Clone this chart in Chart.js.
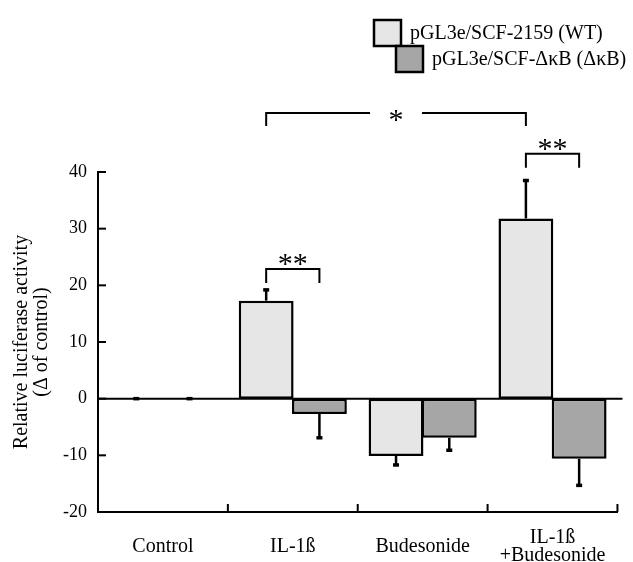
<!DOCTYPE html>
<html>
<head>
<meta charset="utf-8">
<script src="https://cdn.jsdelivr.net/npm/chart.js@4.4.1/dist/chart.umd.min.js"></script>
<style>
  html, body { margin: 0; padding: 0; background: #fff; }
  #wrap { width: 633px; height: 562px; }
</style>
</head>
<body>
<div id="wrap"><canvas id="lucChart" width="633" height="562"></canvas></div>
<script>
// values
const categories = ["Control", "IL-1ß", "Budesonide", ["IL-1ß", "+Budesonide"]];
const seriesNames = ["pGL3e/SCF-2159 (WT)", "pGL3e/SCF-ΔκB (ΔκB)"];
const wtValues = [0, 17.3, -10.1, 31.8];
const wtErrors = [0, 1.9, 1.6, 6.7];
const dkbValues = [0, -2.7, -6.9, -10.6];
const dkbErrors = [0, 4.2, 2.2, 4.7];
const yTicks = [-20, -10, 0, 10, 20, 30, 40];

// significance brackets: [category, dataset] -> [category, dataset] at a y value
const sigBrackets = [
    { from: [1, 0], to: [1, 1], y: 22.9, label: "**" },
    { from: [1, 0], to: [3, 0], y: 50.4, label: "*" },
    { from: [3, 0], to: [3, 1], y: 43.2, label: "**" }
];

const serif = "'Liberation Serif', 'Times New Roman', serif";
const colors = ["#e6e6e6", "#a6a6a6"];

// error bars, zero line, inner ticks, brackets and legend
const extras = {
    id: "extras",
    afterDatasetsDraw(chart) {
        const ctx = chart.ctx;
        const area = chart.chartArea;
        const y = chart.scales.y;
        const x = chart.scales.x;
        ctx.save();
        ctx.strokeStyle = "#000";
        ctx.lineCap = "butt";

        // zero line
        ctx.lineWidth = 2;
        ctx.beginPath();
        ctx.moveTo(area.left, y.getPixelForValue(0));
        ctx.lineTo(area.right + 5, y.getPixelForValue(0));
        ctx.stroke();

        // error bars, drawn away from zero
        const errs = [wtErrors, dkbErrors];
        chart.data.datasets.forEach((ds, di) => {
            const meta = chart.getDatasetMeta(di);
            meta.data.forEach((bar, i) => {
                const v = ds.data[i];
                const e = errs[di][i];
                const end = v >= 0 ? v + e : v - e;
                const py0 = y.getPixelForValue(v);
                const py1 = y.getPixelForValue(end);
                ctx.lineWidth = 2.5;
                ctx.beginPath();
                ctx.moveTo(bar.x, py0);
                ctx.lineTo(bar.x, py1);
                ctx.stroke();
                ctx.lineWidth = 3.5;
                ctx.beginPath();
                ctx.moveTo(bar.x - 3, py1);
                ctx.lineTo(bar.x + 3, py1);
                ctx.stroke();
            });
        });

        // inner ticks on y axis
        ctx.lineWidth = 2;
        y.ticks.forEach(t => {
            const py = y.getPixelForValue(t.value);
            ctx.beginPath();
            ctx.moveTo(area.left, py);
            ctx.lineTo(area.left + 8, py);
            ctx.stroke();
        });
        // inner ticks on x axis at category boundaries
        for (let i = 1; i <= categories.length; i++) {
            const bx = i < categories.length
                ? (x.getPixelForValue(i - 1) + x.getPixelForValue(i)) / 2
                : area.right;
            ctx.beginPath();
            ctx.moveTo(bx, area.bottom);
            ctx.lineTo(bx, area.bottom - 8);
            ctx.stroke();
        }

        // significance brackets
        ctx.fillStyle = "#000";
        ctx.textAlign = "center";
        ctx.textBaseline = "alphabetic";
        ctx.font = "30px " + serif;
        sigBrackets.forEach(b => {
            const x1 = chart.getDatasetMeta(b.from[1]).data[b.from[0]].x;
            const x2 = chart.getDatasetMeta(b.to[1]).data[b.to[0]].x;
            const py = y.getPixelForValue(b.y);
            const mid = (x1 + x2) / 2;
            ctx.lineWidth = 2;
            ctx.beginPath();
            if (b.label === "*") {
                ctx.moveTo(x1, py + 13);
                ctx.lineTo(x1, py);
                ctx.lineTo(mid - 26, py);
                ctx.moveTo(mid + 26, py);
                ctx.lineTo(x2, py);
                ctx.lineTo(x2, py + 13);
                ctx.stroke();
                ctx.fillText(b.label, mid, py + 16);
            } else {
                ctx.moveTo(x1, py + 14);
                ctx.lineTo(x1, py);
                ctx.lineTo(x2, py);
                ctx.lineTo(x2, py + 14);
                ctx.stroke();
                ctx.fillText(b.label, mid, py + 4.5);
            }
        });

        // legend
        ctx.font = "20px " + serif;
        ctx.textAlign = "left";
        ctx.textBaseline = "middle";
        const boxes = [[374, 20], [396, 46]];
        chart.data.datasets.forEach((ds, di) => {
            const [bx, by] = boxes[di];
            ctx.fillStyle = ds.backgroundColor;
            ctx.fillRect(bx, by, 27, 26);
            ctx.lineWidth = 2.5;
            ctx.strokeRect(bx, by, 27, 26);
            ctx.fillStyle = "#000";
            ctx.fillText(ds.label, bx + 36, by + 14);
        });
        ctx.restore();
    }
};

new Chart(document.getElementById("lucChart"), {
    type: "bar",
    data: {
        labels: categories,
        datasets: [
            { label: seriesNames[0], data: wtValues, backgroundColor: colors[0] },
            { label: seriesNames[1], data: dkbValues, backgroundColor: colors[1] }
        ]
    },
    options: {
        responsive: false,
        animation: false,
        events: [],
        layout: { padding: { top: 172, right: 13, left: 0, bottom: 0 } },
        datasets: {
            bar: {
                borderColor: "#000",
                borderWidth: 2.5,
                borderSkipped: false,
                categoryPercentage: 0.82,
                barPercentage: 1.03
            }
        },
        plugins: {
            legend: { display: false },
            tooltip: { enabled: false }
        },
        scales: {
            x: {
                grid: { display: false, drawTicks: false },
                border: { color: "#000", width: 2 },
                ticks: {
                    color: "#000",
                    padding: 26,
                    maxRotation: 0,
                    crossAlign: "center",
                    font: { family: serif, size: 20, lineHeight: 0.9 }
                },
                afterFit: s => { s.height = 50; }
            },
            y: {
                min: -20,
                max: 40,
                grid: { display: false, drawTicks: false },
                border: { color: "#000", width: 2 },
                afterBuildTicks: s => { s.ticks = yTicks.map(v => ({ value: v })); },
                ticks: {
                    color: "#000",
                    padding: 11,
                    font: { family: serif, size: 18 }
                },
                title: {
                    display: true,
                    text: ["Relative luciferase activity", "(Δ of control)"],
                    color: "#000",
                    font: { family: serif, size: 20, lineHeight: 1.0 },
                    padding: { top: 12, bottom: 0 }
                },
                afterFit: s => { s.width = 98; }
            }
        }
    },
    plugins: [extras]
});
</script>
</body>
</html>
